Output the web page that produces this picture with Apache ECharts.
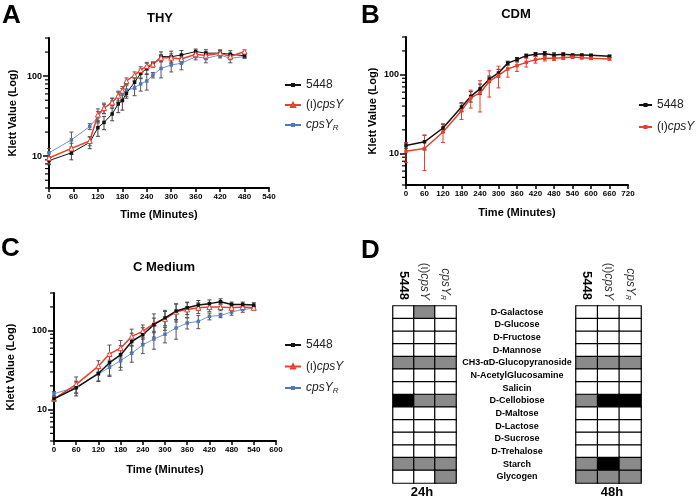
<!DOCTYPE html>
<html>
<head>
<meta charset="utf-8">
<title>Growth curves and sugar use</title>
<script src="https://cdn.jsdelivr.net/npm/echarts@6.0.0/dist/echarts.min.js"></script>
<style>body{margin:0;background:#fff;}</style>
</head>
<body>
<div id="main" style="width:696px;height:500px"></div>
<script>
// ---- panel A, THY ----
var timeA = [0,55,100,120,135,155,170,180,190,210,225,240,255,275,300,325,360,385,420,445,480];
var thy5448 = [8.8,11,14.9,22.7,26.4,33.7,45,49.6,61,84,108,125,140,176,175,184,203,194,194,188,180];
var thyCpsY = [9.5,12.5,15.5,33,40,47,57,66,87,103,119,134,140,170,170,164,188,181,194,176,203];
var thyCpsYR = [11,16,23.5,31,39,48,55,60,66,72,80,87,103,125,138,145,175,167,184,167,176];
var thyErr5448 = [1,2,2.5,5,5,6,10,12,8,15,15,20,10,25,30,25,15,20,15,20,10];
var thyErrCpsY = [1.5,2,2,6,6,6,8,8,8,10,12,15,10,15,20,20,15,20,20,15,10];
var thyErrCpsYR = [1.5,4,2,5,5,5,8,10,10,15,15,20,8,30,25,25,15,20,15,20,10];

// ---- panel B, CDM ----
var timeB = [0,60,120,180,210,240,270,300,330,360,390,420,450,480,510,540,570,600,660];
var cdm5448 = [12.7,14.1,21.1,39,53,66,88,105,140,155,174,181,184,177,181,177,177,176,171];
var cdmCpsY = [10.7,11.6,18.8,35,50.7,58.7,82,98,118,130,143,155,161,161,164,167,164,161,158];
var cdmErr5448 = [1,3,2.5,5,8,10,8,12,8,10,8,10,12,12,8,5,5,5,5];
var cdmErrCpsY = [3,5.5,5,8,13,25,30,30,25,20,18,15,12,10,8,6,6,6,5];

// ---- panel C, C Medium ----
var timeC = [0,60,120,150,180,210,240,270,300,330,360,390,420,450,480,510,540];
var cm5448 = [13.7,18.9,28.7,39.3,49.3,72.9,88.9,119,145,177,195,211,220,233,215,215,211];
var cmCpsY = [13.7,20.9,35.6,50.7,60,84.5,98,123,141,174,186,195,199,199,195,199,195];
var cmCpsYR = [15.9,19.3,28.1,34.3,41.6,51.8,66.2,78.2,90,108,125,131,152,156,172,186,192];
var cmErr5448 = [1,4,6,12,15,20,20,25,30,40,35,30,25,20,15,15,15];
var cmErrCpsY = [1,5,6,15,15,20,20,40,40,45,40,30,25,20,15,15,10];
var cmErrCpsYR = [1,3,5,8,10,12,15,20,20,30,20,25,15,10,15,15,10];

// y axis marks (log)
var majorTicks = [10,100];
var minorTicks = [4,5,6,7,8,9,20,30,40,50,60,70,80,90,200,300];

// ---- panel D ----
var strains = ['5448','(ι)cpsY','cpsY_R'];
var sugars = ['D-Galactose','D-Glucose','D-Fructose','D-Mannose','CH3-αD-Glucopyranoside','N-AcetylGlucosamine','Salicin','D-Cellobiose','D-Maltose','D-Lactose','D-Sucrose','D-Trehalose','Starch','Glycogen'];
// 0 = white, 1 = grey, 2 = black
var use24h = [[0,1,0],[0,0,0],[0,0,0],[0,0,0],[1,1,1],[0,0,0],[0,0,0],[2,1,1],[0,0,0],[0,0,0],[0,0,0],[0,0,0],[1,1,1],[0,0,1]];
var use48h = [[0,0,0],[0,0,0],[0,0,0],[0,0,0],[1,1,1],[0,0,0],[0,0,0],[1,2,2],[0,0,0],[0,0,0],[0,0,0],[0,0,0],[1,2,1],[1,1,1]];

var FONT = '"Liberation Sans", Arial, sans-serif';
var RED = '#e8402f', BLUE = '#4f78b8', BLK = '#111';

function pairs(t, v){ return t.map(function(x, i){ return [x, v[i]]; }); }
function triples(t, v, e){ return t.map(function(x, i){ return [x, v[i], e[i]]; }); }
function cells(m){
	var out = [];
	m.forEach(function(row, r){ row.forEach(function(v, c){ out.push([c, r, v]); }); });
	return out;
}

function xAx(g, max, gap){
	return {type:'value', gridIndex:g, min:0, max:max, interval:60,
		name:'Time (Minutes)', nameLocation:'middle', nameGap:gap,
		nameTextStyle:{fontFamily:FONT, fontWeight:'bold', fontSize:11, color:'#000'},
		axisLine:{lineStyle:{color:'#000', width:2}},
		axisTick:{length:4, lineStyle:{color:'#000', width:1.5}},
		axisLabel:{fontFamily:FONT, fontSize:8, fontWeight:'bold', color:'#000', margin:5},
		splitLine:{show:false}};
}
function yAx(g, gap){
	return {type:'log', logBase:10, gridIndex:g, min:4, max:300,
		name:'Klett Value (Log)', nameLocation:'middle', nameGap:gap,
		nameTextStyle:{fontFamily:FONT, fontWeight:'bold', fontSize:11, color:'#000'},
		axisLine:{lineStyle:{color:'#000', width:2}},
		axisTick:{length:6, customValues:majorTicks, lineStyle:{color:'#000', width:1.5}},
		axisLabel:{customValues:majorTicks, fontFamily:FONT, fontSize:9, fontWeight:'bold', color:'#000', margin:7,
			formatter:function(v){ return String(Math.round(v)); }},
		splitLine:{show:false}};
}
function heatX(g){
	return {type:'category', gridIndex:g, data:strains, position:'top',
		axisLine:{show:false}, axisTick:{show:false}, splitLine:{show:false},
		axisLabel:{rotate:90, margin:6, interval:0, color:'#000', fontFamily:FONT,
			formatter:function(s){
				if (s === '5448') return '{b|5448}';
				if (s === '(ι)cpsY') return '{n|(ι)}{i|cpsY}';
				return '{i|cpsY}{s|R}';
			},
			rich:{b:{fontWeight:'bold', fontSize:13, fontFamily:FONT, color:'#000'},
				n:{fontSize:12, fontFamily:FONT, color:'#333'},
				i:{fontStyle:'italic', fontSize:12, fontFamily:FONT, color:'#333'},
				s:{fontStyle:'italic', fontSize:7, fontFamily:FONT, color:'#333', verticalAlign:'bottom', padding:[5,0,0,0]}}}};
}
function heatY(g, labels){
	return {type:'category', gridIndex:g, data:sugars, inverse:true,
		axisLine:{show:false}, axisTick:{show:false}, splitLine:{show:false},
		axisLabel:{show:labels, interval:0, margin:59, align:'center', fontFamily:FONT, fontSize:9, fontWeight:'bold', color:'#000'}};
}

function lineS(name, g, t, v, color, width, symbol, fill){
	return {name:name, type:'line', xAxisIndex:g, yAxisIndex:g, data:pairs(t, v),
		symbol:symbol, symbolSize: symbol === 'triangle' ? 5 : 3.5, showSymbol:true, z:4,
		lineStyle:{color:color, width:width},
		itemStyle:{color:fill || color, borderColor:color, borderWidth: fill ? 1 : 0}};
}
function errS(g, t, v, e, color){
	return {type:'custom', xAxisIndex:g, yAxisIndex:g, data:triples(t, v, e), silent:true, z:3,
		renderItem:function(p, api){
			var x = api.value(0), y = api.value(1), d = api.value(2);
			var lo = api.coord([x, Math.max(y - d, 4.05)]), hi = api.coord([x, y + d]);
			var st = {stroke:color, lineWidth:1};
			return {type:'group', children:[
				{type:'line', shape:{x1:lo[0], y1:lo[1], x2:hi[0], y2:hi[1]}, style:st},
				{type:'line', shape:{x1:lo[0]-2, y1:lo[1], x2:lo[0]+2, y2:lo[1]}, style:st},
				{type:'line', shape:{x1:hi[0]-2, y1:hi[1], x2:hi[0]+2, y2:hi[1]}, style:st}
			]};
		}};
}
function tickS(g){
	return {type:'custom', xAxisIndex:g, yAxisIndex:g, clip:false, silent:true,
		data:minorTicks.map(function(v){ return [0, v]; }),
		renderItem:function(p, api){
			var c = api.coord([0, api.value(1)]);
			return {type:'line', shape:{x1:c[0]-4, y1:c[1], x2:c[0], y2:c[1]}, style:{stroke:'#000', lineWidth:1.2}};
		}};
}
function heatS(g, m){
	return {type:'heatmap', xAxisIndex:g, yAxisIndex:g, data:cells(m),
		itemStyle:{borderColor:'#000', borderWidth:1.2}, emphasis:{disabled:true}};
}

var legendRich = {i:{fontStyle:'italic', fontSize:12, fontFamily:FONT, color:'#222'},
	s:{fontStyle:'italic', fontSize:8, fontFamily:FONT, color:'#222', verticalAlign:'bottom', padding:[6,0,0,0]}};
function legendFmt(n){
	var s = n.slice(2);
	if (s === '(ι)cpsY') return '(ι){i|cpsY}';
	if (s === 'cpsY_R') return '{i|cpsY}{s|R}';
	return s;
}
function legend(names, left, top, gap, w){
	return {data:names, orient:'vertical', left:left, top:top, padding:0, itemWidth:w, itemHeight:5, itemGap:gap,
		selectedMode:false, formatter:legendFmt,
		textStyle:{fontFamily:FONT, fontSize:12, color:'#222', rich:legendRich}};
}
function label(text, x, y, size, align){
	return {text:text, left:x, top:y, padding:0, textAlign:align || 'left',
		textStyle:{fontFamily:FONT, fontWeight:'bold', fontSize:size, color:'#000'}};
}

var myChart = echarts.init(document.getElementById('main'));
var option = {
	animation:false,
	backgroundColor:'#fff',
	title:[
		label('A', 2, 3, 26), label('B', 361, 3, 26), label('C', 1, 236, 26), label('D', 361, 238, 26),
		label('THY', 160, 12, 13, 'center'), label('CDM', 516, 8, 13, 'center'),
		label('C Medium', 164, 261, 13, 'center'),
		label('24h', 422, 486, 13, 'center'), label('48h', 612, 486, 13, 'center')
	],
	legend:[
		legend(['A-5448','A-(ι)cpsY','A-cpsY_R'], 284, 79, 8, 16),
		legend(['B-5448','B-(ι)cpsY'], 638, 99, 10, 13),
		legend(['C-5448','C-(ι)cpsY','C-cpsY_R'], 284, 339, 9.5, 16)
	],
	visualMap:{type:'piecewise', show:false, dimension:2, seriesIndex:[19, 20],
		pieces:[{value:0, color:'#fff'}, {value:1, color:'#8a8a8a'}, {value:2, color:'#000'}]},
	grid:[
		{left:49, top:38, width:220, height:150},
		{left:406, top:37, width:222, height:148},
		{left:54, top:293, width:222, height:148},
		{left:393, top:306, width:63, height:177},
		{left:576, top:306, width:65, height:177}
	],
	xAxis:[xAx(0, 540, 21), xAx(1, 720, 22), xAx(2, 600, 23), heatX(3), heatX(4)],
	yAxis:[yAx(0, 31), yAx(1, 28), yAx(2, 38), heatY(3, false), heatY(4, true)],
	series:[
		errS(0, timeA, thy5448, thyErr5448, '#444'),
		errS(0, timeA, thyCpsY, thyErrCpsY, '#555'),
		errS(0, timeA, thyCpsYR, thyErrCpsYR, '#555'),
		lineS('A-cpsY_R', 0, timeA, thyCpsYR, BLUE, 0.8, 'rect'),
		lineS('A-5448', 0, timeA, thy5448, BLK, 1, 'rect'),
		lineS('A-(ι)cpsY', 0, timeA, thyCpsY, RED, 1.5, 'triangle', '#fff'),
		tickS(0),
		errS(1, timeB, cdm5448, cdmErr5448, '#222'),
		errS(1, timeB, cdmCpsY, cdmErrCpsY, RED),
		lineS('B-5448', 1, timeB, cdm5448, BLK, 1.5, 'rect'),
		lineS('B-(ι)cpsY', 1, timeB, cdmCpsY, RED, 1.5, 'rect'),
		tickS(1),
		errS(2, timeC, cm5448, cmErr5448, '#444'),
		errS(2, timeC, cmCpsY, cmErrCpsY, '#555'),
		errS(2, timeC, cmCpsYR, cmErrCpsYR, '#555'),
		lineS('C-cpsY_R', 2, timeC, cmCpsYR, BLUE, 0.8, 'rect'),
		lineS('C-(ι)cpsY', 2, timeC, cmCpsY, RED, 1.5, 'triangle', '#fff'),
		lineS('C-5448', 2, timeC, cm5448, BLK, 1.5, 'rect'),
		tickS(2),
		heatS(3, use24h),
		heatS(4, use48h)
	]
};
myChart.setOption(option);
</script>
</body>
</html>
